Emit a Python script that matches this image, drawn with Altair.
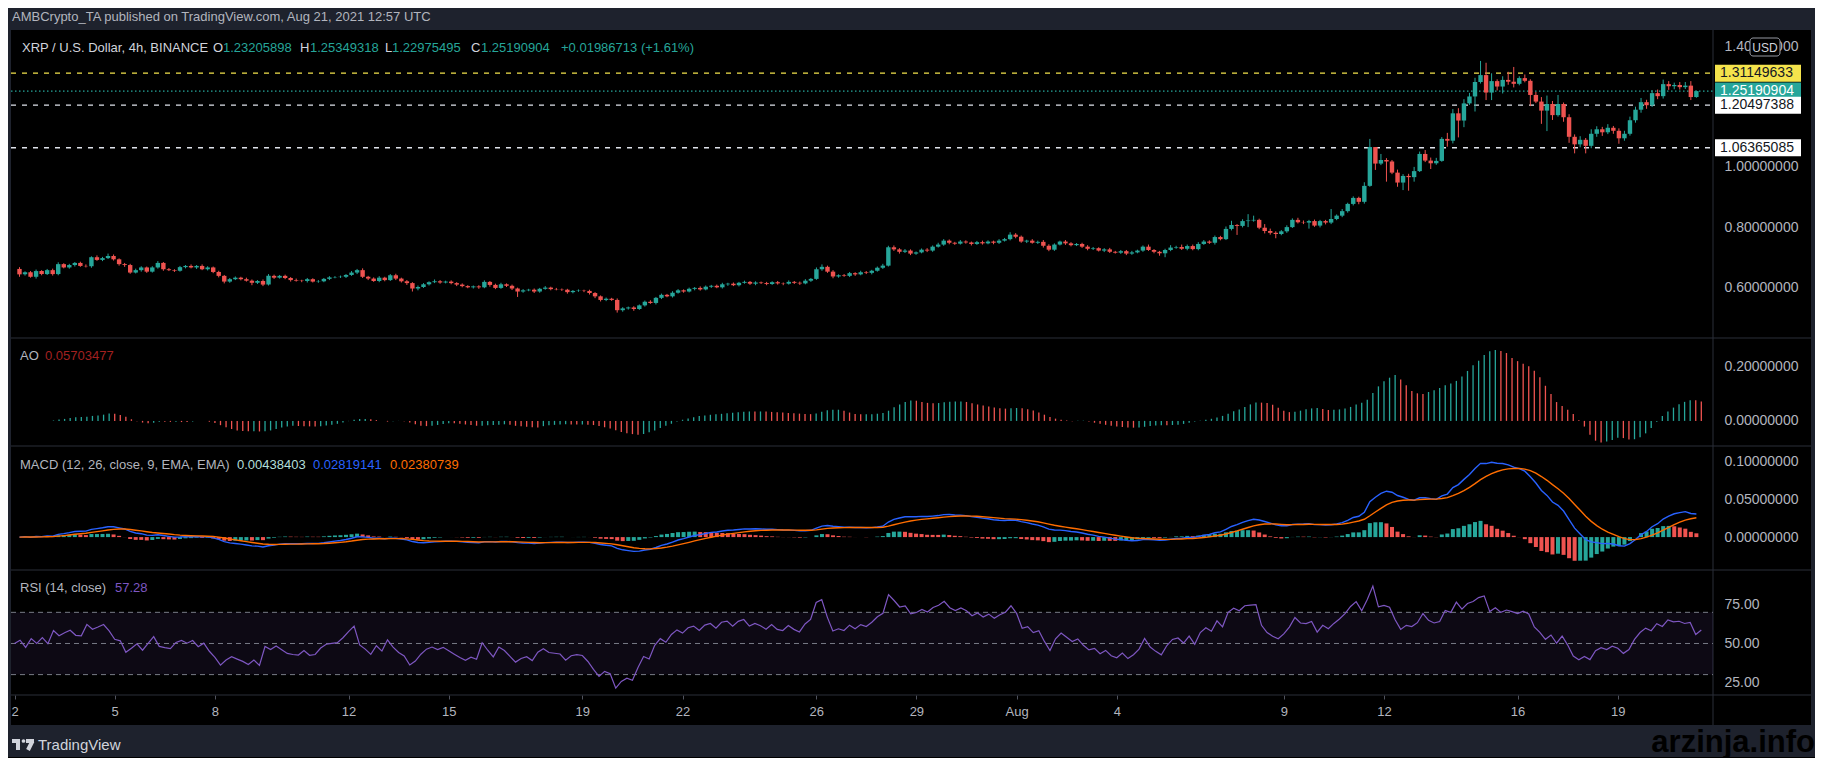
import altair as alt
import numpy as np
import pandas as pd

# ---------------- data ----------------
first_open = 0.661
close = [
    0.643, 0.650, 0.635, 0.654, 0.644, 0.657, 0.644, 0.677, 0.666, 0.674, 0.681, 0.671, 0.670, 0.700, 0.691, 0.697, 0.704, 0.693, 0.677, 0.674,
    0.649, 0.657, 0.666, 0.652, 0.666, 0.681, 0.660, 0.657, 0.655, 0.667, 0.671, 0.666, 0.671, 0.660, 0.666, 0.651, 0.638, 0.619, 0.627, 0.632,
    0.627, 0.622, 0.615, 0.621, 0.609, 0.638, 0.632, 0.638, 0.631, 0.624, 0.622, 0.621, 0.627, 0.619, 0.620, 0.628, 0.633, 0.634, 0.635, 0.641,
    0.649, 0.657, 0.635, 0.629, 0.621, 0.632, 0.624, 0.640, 0.629, 0.620, 0.614, 0.596, 0.601, 0.610, 0.617, 0.620, 0.616, 0.619, 0.614, 0.609,
    0.604, 0.600, 0.603, 0.600, 0.618, 0.608, 0.598, 0.610, 0.605, 0.596, 0.586, 0.590, 0.592, 0.586, 0.595, 0.599, 0.594, 0.593, 0.592, 0.584,
    0.588, 0.589, 0.588, 0.581, 0.570, 0.558, 0.562, 0.558, 0.524, 0.530, 0.533, 0.528, 0.540, 0.552, 0.548, 0.565, 0.575, 0.570, 0.582, 0.590,
    0.586, 0.595, 0.598, 0.593, 0.602, 0.605, 0.600, 0.610, 0.612, 0.607, 0.615, 0.618, 0.612, 0.616, 0.614, 0.611, 0.617, 0.613, 0.612, 0.618,
    0.615, 0.613, 0.622, 0.628, 0.660, 0.668, 0.652, 0.636, 0.640, 0.638, 0.647, 0.643, 0.650, 0.648, 0.655, 0.665, 0.672, 0.733, 0.726, 0.718,
    0.722, 0.712, 0.716, 0.725, 0.722, 0.735, 0.742, 0.755, 0.748, 0.745, 0.752, 0.749, 0.744, 0.750, 0.746, 0.752, 0.748, 0.755, 0.760, 0.775,
    0.768, 0.752, 0.755, 0.748, 0.751, 0.738, 0.725, 0.742, 0.752, 0.746, 0.740, 0.744, 0.735, 0.728, 0.730, 0.722, 0.726, 0.718, 0.715, 0.720,
    0.712, 0.716, 0.722, 0.735, 0.724, 0.718, 0.713, 0.724, 0.732, 0.734, 0.728, 0.737, 0.727, 0.744, 0.752, 0.748, 0.767, 0.760, 0.794, 0.807,
    0.804, 0.820, 0.822, 0.824, 0.798, 0.787, 0.781, 0.777, 0.786, 0.800, 0.824, 0.816, 0.815, 0.820, 0.805, 0.820, 0.815, 0.827, 0.838, 0.853,
    0.877, 0.897, 0.884, 0.937, 1.066, 1.011, 1.023, 1.018, 0.981, 0.948, 0.970, 0.966, 0.986, 1.043, 1.021, 1.012, 1.020, 1.093, 1.087, 1.178,
    1.154, 1.211, 1.234, 1.282, 1.305, 1.247, 1.285, 1.267, 1.289, 1.283, 1.276, 1.295, 1.286, 1.239, 1.217, 1.187, 1.209, 1.172, 1.209, 1.165,
    1.100, 1.075, 1.090, 1.070, 1.110, 1.125, 1.115, 1.130, 1.120, 1.095, 1.110, 1.155, 1.190, 1.215, 1.205, 1.245, 1.235, 1.275, 1.268, 1.272,
    1.265, 1.270, 1.23205898, 1.25190904,
]
# wick lengths above / below the candle body, in thousandths of a dollar
up_wick = [
    6, 3, 4, 5, 3, 4, 5, 6, 3, 4, 3, 4, 5, 3, 6, 4, 8, 5, 3, 4,
    4, 5, 4, 3, 4, 6, 3, 4, 3, 4, 3, 5, 3, 5, 4, 3, 4, 3, 4, 4,
    3, 5, 4, 3, 5, 6, 4, 3, 4, 3, 5, 3, 4, 3, 4, 3, 4, 3, 4, 3,
    5, 4, 6, 3, 4, 5, 3, 4, 5, 3, 4, 3, 5, 4, 3, 6, 4, 3, 4, 3,
    4, 3, 3, 4, 5, 3, 4, 5, 3, 4, 3, 4, 3, 4, 3, 5, 3, 4, 3, 3,
    3, 4, 3, 4, 3, 3, 4, 3, 5, 4, 3, 4, 3, 4, 5, 3, 4, 3, 5, 4,
    3, 4, 3, 5, 4, 3, 4, 5, 3, 4, 3, 4, 3, 4, 3, 4, 3, 4, 3, 5,
    3, 4, 5, 3, 6, 8, 4, 5, 3, 4, 4, 3, 5, 4, 3, 4, 6, 5, 6, 4,
    5, 4, 3, 4, 5, 4, 6, 5, 4, 3, 5, 4, 3, 4, 5, 4, 3, 5, 4, 8,
    5, 4, 3, 5, 4, 6, 5, 4, 3, 5, 4, 3, 4, 5, 4, 3, 4, 5, 3, 4,
    4, 5, 3, 4, 7, 3, 3, 4, 8, 4, 8, 5, 5, 6, 5, 4, 5, 4, 8, 14,
    3, 6, 21, 14, 4, 12, 8, 5, 4, 6, 5, 7, 6, 4, 5, 4, 4, 33, 4, 7,
    4, 5, 4, 12, 27, 0, 20, 6, 5, 10, 6, 7, 14, 8, 13, 10, 10, 6, 20, 14,
    17, 14, 12, 14, 47, 41, 26, 6, 12, 27, 49, 6, 12, 5, 10, 15, 28, 10, 30, 5,
    10, 8, 12, 6, 15, 10, 8, 12, 6, 8, 10, 12, 10, 14, 8, 10, 12, 15, 10, 8,
    10, 12, 15, 1.58,
]
low_wick = [
    8, 4, 3, 6, 4, 3, 5, 4, 3, 4, 5, 3, 4, 5, 3, 4, 3, 4, 5, 6,
    4, 3, 5, 4, 3, 4, 5, 3, 4, 3, 4, 3, 5, 3, 4, 4, 5, 6, 4, 3,
    4, 3, 8, 4, 5, 3, 4, 3, 4, 5, 3, 4, 5, 3, 4, 3, 4, 3, 3, 4,
    3, 5, 4, 5, 3, 4, 4, 3, 5, 4, 6, 10, 6, 3, 4, 3, 4, 3, 4, 5,
    4, 3, 4, 5, 3, 6, 4, 3, 4, 5, 18, 4, 3, 5, 4, 3, 4, 3, 4, 5,
    4, 3, 4, 5, 6, 5, 4, 3, 8, 5, 4, 6, 3, 4, 3, 5, 4, 3, 4, 3,
    4, 3, 5, 4, 3, 4, 3, 4, 5, 3, 4, 3, 4, 5, 3, 4, 3, 4, 5, 3,
    4, 5, 3, 4, 3, 5, 4, 6, 4, 3, 4, 5, 3, 4, 5, 3, 4, 3, 5, 6,
    4, 5, 4, 3, 5, 4, 3, 4, 5, 4, 3, 4, 5, 3, 4, 3, 5, 4, 3, 4,
    5, 4, 5, 3, 4, 6, 5, 4, 3, 5, 4, 3, 4, 5, 4, 3, 5, 4, 3, 4,
    5, 4, 3, 4, 3, 5, 8, 13, 4, 4, 4, 5, 4, 4, 3, 4, 6, 4, 3, 5,
    30, 5, 20, 4, 5, 8, 6, 14, 4, 5, 3, 4, 5, 20, 4, 6, 6, 5, 4, 5,
    5, 5, 8, 6, 3, 21, 5, 67, 5, 14, 25, 45, 15, 3, 5, 19, 5, 3, 20, 9,
    56, 22, 5, 50, 5, 25, 25, 13, 23, 10, 12, 5, 5, 37, 5, 44, 68, 16, 5, 15,
    20, 30, 10, 25, 8, 10, 12, 6, 10, 18, 8, 6, 8, 10, 12, 6, 10, 8, 12, 10,
    8, 6, 10, 2.3,
]

day_ticks = [0, 18, 36, 60, 78, 102, 120, 144, 162, 180, 198, 228, 246, 270, 288]
day_labels = ["2", "5", "8", "12", "15", "19", "22", "26", "29", "Aug", "4", "9", "12", "16", "19"]

level_yellow = [1.31149633]
level_white = [1.20497388, 1.06365085]
level_last = [1.25190904]

price_ticks = [0.6, 0.8, 1.0, 1.4]
ao_ticks = [0.0, 0.2]
macd_ticks = [0.0, 0.05, 0.1]
rsi_ticks = [25, 50, 75]
rsi_levels = [70, 50, 30]

header_text = "AMBCrypto_TA published on TradingView.com, Aug 21, 2021 12:57 UTC"
symbol_text = "XRP / U.S. Dollar, 4h, BINANCE"
ohlc_letters = ["O", "H", "L", "C"]
ohlc_values = ["1.23205898", "1.25349318", "1.22975495", "1.25190904"]
change_text = "+0.01986713 (+1.61%)"
ao_value = "0.05703477"
macd_title = "MACD (12, 26, close, 9, EMA, EMA)"
macd_values = ["0.00438403", "0.02819141", "0.02380739"]
rsi_title = "RSI (14, close)"
rsi_value = "57.28"
watermark = "arzinja.info"

# ---------------- derived series ----------------
n = len(close)
c = np.array(close, dtype=float)
o = np.concatenate([[first_open], c[:-1]])
h = np.maximum(o, c) + np.array(up_wick, dtype=float) / 1000.0
l = np.minimum(o, c) - np.array(low_wick, dtype=float) / 1000.0
df = pd.DataFrame({"i": np.arange(n), "o": o, "h": h, "l": l, "c": c})
df["dir"] = np.where(c >= o, "up", "down")

med = pd.Series((h + l) / 2.0)
ao = med.rolling(5, min_periods=1).mean() - med.rolling(34, min_periods=1).mean()
df["ao"] = ao.values
df["aodir"] = np.where(ao.diff().fillna(0).values >= 0, "up", "down")

cs = pd.Series(c)
macd = cs.ewm(span=12, adjust=False).mean() - cs.ewm(span=26, adjust=False).mean()
sig = macd.ewm(span=9, adjust=False).mean()
hist = macd - sig
prev = hist.shift(1).fillna(0)
df["macd"] = macd.values
df["sig"] = sig.values
df["hist"] = hist.values
df["hc"] = np.select([(hist >= 0) & (hist >= prev), hist >= 0, hist < prev], ["pu", "pd", "nd"], "nu")

d = cs.diff().fillna(0).values
seed = float(np.mean(np.abs(d[1:15]))) / 2.0
ag, al = seed, seed
rsi = []
for v in d:
    ag = (ag * 13 + max(v, 0)) / 14
    al = (al * 13 + max(-v, 0)) / 14
    rsi.append(100 - 100 / (1 + ag / al) if al > 0 else 100)
df["rsi"] = rsi

# ---------------- style / layout ----------------
FONT = "Liberation Sans"
TXT = "#b2b5be"
SEP = "#2a2e39"
FRAME = "#1e222d"
UP, DOWN = "#26a69a", "#ef5350"
W = 1702
AXW = 98
H_MAIN, H_AO, H_MACD, H_RSI = 308, 108, 124, 125
TOTAL = H_MAIN + H_AO + H_MACD + H_RSI
XDOM = [-0.63, 305.1]


def xenc(axis=None):
    return alt.X("i:Q", scale=alt.Scale(domain=XDOM, nice=False, zero=False), axis=axis, title=None)


def yaxis(values, fmt):
    return alt.Axis(orient="right", values=values, format=fmt, grid=False, domain=False, ticks=False,
                    tickSize=0, labelPadding=11, labelColor=TXT, labelFontSize=14, labelFont=FONT,
                    title=None, labelOverlap=False)


def one():
    return alt.Chart(pd.DataFrame({"k": [0]}))


def txt(s, x, y, color=TXT, size=13, weight="normal", align="left", font=FONT):
    return alt.Chart(pd.DataFrame({"t": [s]})).mark_text(
        align=align, baseline="middle", fill=color, fontSize=size, fontWeight=weight, font=font
    ).encode(x=alt.value(x), y=alt.value(y), text="t:N")


def box(x1, x2, y1, y2, color, **kw):
    return one().mark_rect(color=color, **kw).encode(
        x=alt.value(x1), x2=alt.value(x2), y=alt.value(y1), y2=alt.value(y2))


def hline(x1, x2, y, color=SEP):
    return one().mark_rule(color=color, strokeWidth=1).encode(x=alt.value(x1), x2=alt.value(x2), y=alt.value(y))


# ---------------- main price pane ----------------
ys_main = alt.Scale(domain=[0.4316, 1.4548], nice=False, zero=False)
cscale = alt.Scale(domain=["up", "down"], range=[UP, DOWN])
base = alt.Chart(df)

wicks = base.mark_rule(strokeWidth=1).encode(
    x=xenc(), y=alt.Y("l:Q", scale=ys_main, axis=yaxis(price_ticks, ".8f"), title=None), y2="h:Q",
    color=alt.Color("dir:N", scale=cscale, legend=None))
bodies = base.mark_bar(size=4.4).encode(
    x="i:Q", y=alt.Y("o:Q", title=None), y2="c:Q", color=alt.Color("dir:N", scale=cscale, legend=None))

lv_y = alt.Chart(pd.DataFrame({"p": level_yellow}))
lv_w = alt.Chart(pd.DataFrame({"p": level_white}))
lv_l = alt.Chart(pd.DataFrame({"p": level_last}))


def level_line(ch, color, dash):
    return ch.mark_rule(color=color, strokeDash=dash, strokeWidth=1.3).encode(
        y=alt.Y("p:Q", title=None), x=alt.value(0), x2=alt.value(W))


def level_tag(ch, fill, textcolor):
    tag = ch.mark_tick(orient="horizontal", color=fill, size=86, thickness=17, opacity=1).encode(
        y=alt.Y("p:Q", title=None), x=alt.value(W + 45))
    lab = ch.mark_text(align="left", baseline="middle", color=textcolor, fontSize=14, font=FONT).encode(
        y=alt.Y("p:Q", title=None), x=alt.value(W + 7), text=alt.Text("p:Q", format=".8f"))
    return [tag, lab]


main_layers = [
    box(-3, W + AXW + 4, -22, 0, FRAME),
    box(-3, 0, 0, TOTAL + 30, FRAME),
    box(W + AXW, W + AXW + 4, 0, TOTAL + 30, FRAME),
    box(-3, W + AXW + 4, TOTAL + 30, TOTAL + 62, FRAME),
    one().mark_rule(color=SEP).encode(x=alt.value(W), y=alt.value(0), y2=alt.value(TOTAL + 30)),
    level_line(lv_w, "#e0e3eb", [5, 6]),
    level_line(lv_y, "#f4e34c", [5, 6]),
    level_line(lv_l, UP, [1.5, 2.5]),
    wicks,
    bodies,
]
main_layers += level_tag(lv_y, "#f4e34c", "#131722")
main_layers += level_tag(lv_l, UP, "#ffffff")
main_layers += level_tag(lv_w, "#ffffff", "#131722")
main_layers += [
    box(W + 37, W + 67, 8, 26, "#000000", stroke="#9598a1", strokeWidth=1, cornerRadius=3),
    txt("USD", W + 52, 17.5, color="#d1d4dc", size=12, align="center"),
    txt(header_text, 1, -13, color=TXT, size=13),
    txt(symbol_text, 11, 18, color="#d1d4dc", size=13),
]
for letter, val, xl, xv in zip(ohlc_letters, ohlc_values, [202, 289, 374, 460], [212, 299, 381, 470]):
    main_layers.append(txt(letter, xl, 18, color="#d1d4dc"))
    main_layers.append(txt(val, xv, 18, color=UP))
main_layers += [
    txt(change_text, 550, 18, color=UP),
    # TradingView logo (bottom bar)
    box(1, 9, TOTAL + 44, TOTAL + 48, "#d1d4dc"),
    box(5, 9, TOTAL + 44, TOTAL + 55, "#d1d4dc"),
    one().mark_circle(color="#d1d4dc", size=14, opacity=1).encode(x=alt.value(12.5), y=alt.value(TOTAL + 46)),
    box(15, 23, TOTAL + 44, TOTAL + 48, "#d1d4dc"),
    one().mark_rule(color="#d1d4dc", strokeWidth=4).encode(
        x=alt.value(21.5), y=alt.value(TOTAL + 46), x2=alt.value(17), y2=alt.value(TOTAL + 55)),
    txt("TradingView", 27, TOTAL + 50, color="#d1d4dc", size=15),
]
main = alt.layer(*main_layers).properties(width=W, height=H_MAIN)

# ---------------- AO pane ----------------
ys_ao = alt.Scale(domain=[-0.0918, 0.303], nice=False, zero=False)
ao_bars = base.mark_rule(strokeWidth=1.3).encode(
    x=xenc(), y=alt.Y("ao:Q", scale=ys_ao, axis=yaxis(ao_ticks, ".8f"), title=None), y2=alt.datum(0),
    color=alt.Color("aodir:N", scale=alt.Scale(domain=["up", "down"], range=["#0a8a0a", "#b02525"]), legend=None))
ao_p = alt.layer(
    hline(0, W + AXW, 0),
    ao_bars,
    txt("AO", 9, 18),
    txt(ao_value, 34, 18, color="#a32020"),
).properties(width=W, height=H_AO)

# ---------------- MACD pane ----------------
ys_macd = alt.Scale(domain=[-0.0436, 0.1207], nice=False, zero=False)
hist_bars = base.mark_bar(size=4).encode(
    x=xenc(), y=alt.Y("hist:Q", scale=ys_macd, axis=yaxis(macd_ticks, ".8f"), title=None), y2=alt.datum(0),
    color=alt.Color("hc:N", scale=alt.Scale(domain=["pu", "pd", "nu", "nd"],
                                            range=["#26a69a", "#b2dfdb", "#ffcdd2", "#ff5252"]), legend=None))
macd_line = base.mark_line(color="#2962ff", strokeWidth=1.4).encode(x="i:Q", y=alt.Y("macd:Q", title=None))
sig_line = base.mark_line(color="#ff6d00", strokeWidth=1.4).encode(x="i:Q", y=alt.Y("sig:Q", title=None))
macd_p = alt.layer(
    hline(0, W + AXW, 0),
    hist_bars, macd_line, sig_line,
    txt(macd_title, 9, 19),
    txt(macd_values[0], 226, 19, color="#b2dfdb"),
    txt(macd_values[1], 302, 19, color="#2962ff"),
    txt(macd_values[2], 379, 19, color="#ff6d00"),
).properties(width=W, height=H_MACD)

# ---------------- RSI pane ----------------
expr = " : ".join(f"datum.value == {t} ? '{lab}'" for t, lab in zip(day_ticks, day_labels)) + " : ''"
time_axis = alt.Axis(orient="bottom", values=day_ticks, labelExpr=expr, grid=False, domain=False, ticks=True,
                     tickSize=4, tickColor="#50535e", labelColor=TXT, labelFontSize=13, labelFont=FONT,
                     labelPadding=6, title=None, labelOverlap=False, labelFlush=False)
ys_rsi = alt.Scale(domain=[16.9, 97.2], nice=False, zero=False)
rsi_line = base.mark_line(color="#7e57c2", strokeWidth=1.2).encode(
    x=xenc(time_axis), y=alt.Y("rsi:Q", scale=ys_rsi, axis=yaxis(rsi_ticks, ".2f"), title=None))
band = one().mark_rect(color="#7e57c2", opacity=0.1).encode(
    x=alt.value(0), x2=alt.value(W), y=alt.datum(70), y2=alt.datum(30))
rsi_dash = alt.Chart(pd.DataFrame({"v": rsi_levels})).mark_rule(
    color="#787b86", strokeDash=[5, 4], strokeWidth=1).encode(
    y=alt.Y("v:Q", title=None), x=alt.value(0), x2=alt.value(W))
rsi_p = alt.layer(
    hline(0, W + AXW, 0),
    hline(0, W + AXW, H_RSI),
    band, rsi_dash, rsi_line,
    txt(rsi_title, 9, 18),
    txt(rsi_value, 104, 18, color="#7e57c2"),
    txt(watermark, W + AXW + 4, H_RSI + 48, color="#000000", size=31, weight="bold", align="right"),
).properties(width=W, height=H_RSI)

chart = alt.vconcat(main, ao_p, macd_p, rsi_p, spacing=0, bounds="flush").properties(
    padding=0, background="#000000"
).configure_view(strokeWidth=0)

chart.save("out.html", embed_options={"renderer": "svg", "actions": False})
